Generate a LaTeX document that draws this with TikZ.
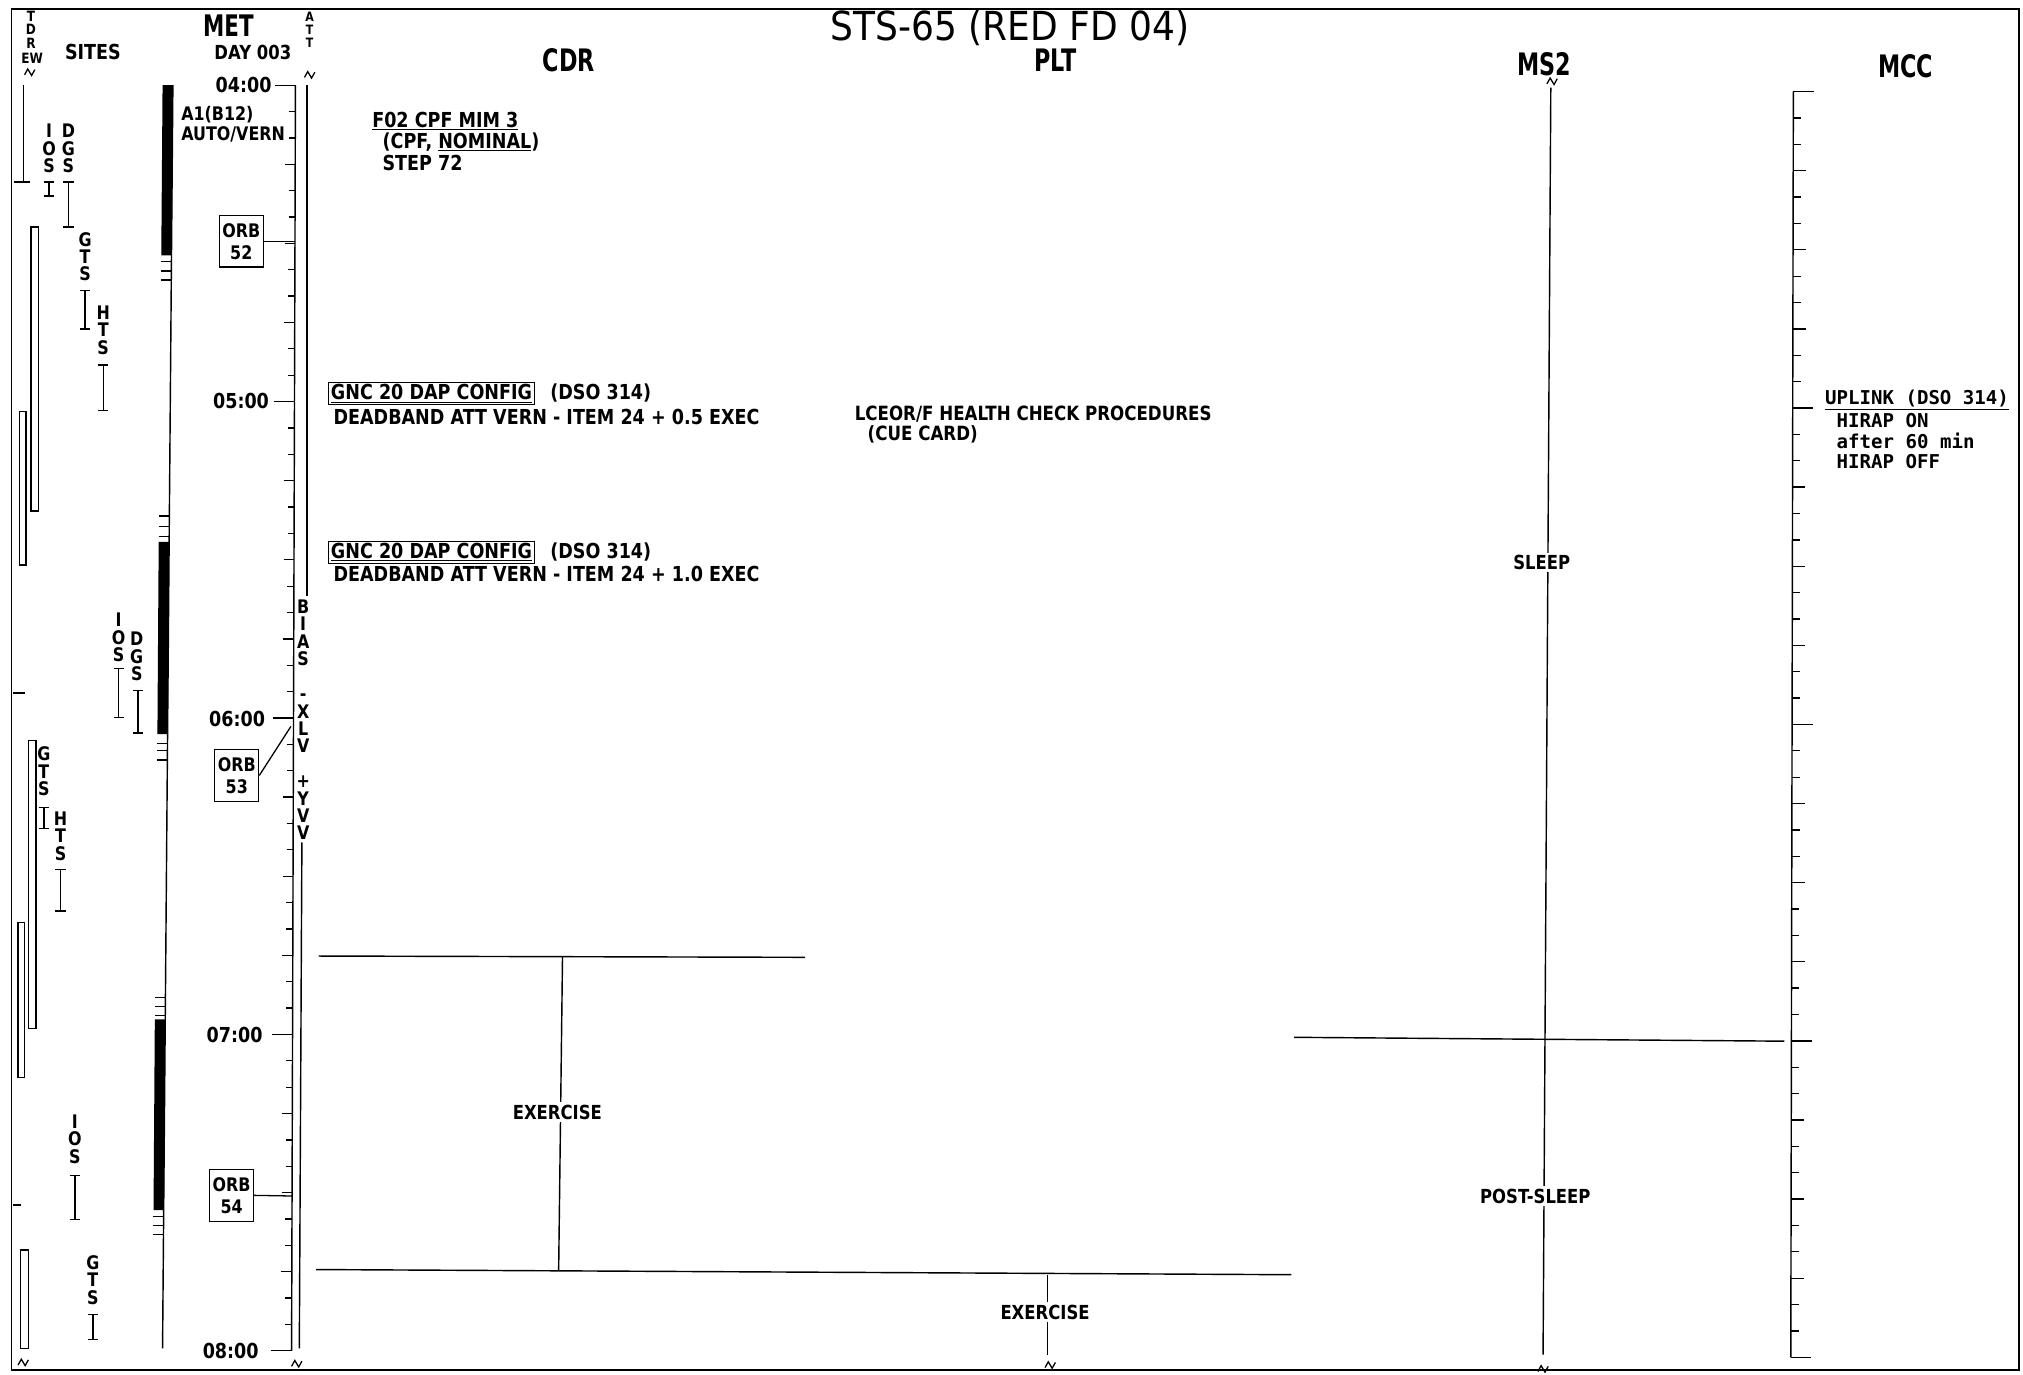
\documentclass[tikz,border=0pt]{standalone}
\usepackage{fontspec}
\setmainfont[FakeStretch=0.85]{DejaVu Sans}
\newfontfamily\ttlf[FakeStretch=0.9]{DejaVu Sans}
\newfontfamily\hdf[FakeStretch=0.72]{DejaVu Sans}
\newfontfamily\monof{DejaVu Sans Mono}
\newcommand\siteI[3]{\draw (#1,#2) -- (#1,#3) (#1-4,#2) -- (#1+4,#2) (#1-4,#3) -- (#1+4,#3);}
\begin{document}
\begin{tikzpicture}[x=1pt,y=-1pt,line width=1.1pt,
  txt/.style={inner sep=0pt,anchor=west,font=\bfseries\fontsize{16}{18}\selectfont},
  ctxt/.style={inner sep=2pt,fill=white,font=\bfseries\fontsize{15}{17}\selectfont},
  hdr/.style={inner sep=0pt,font=\hdf\bfseries\fontsize{24}{26}\selectfont},
  vst/.style={inner sep=0pt,align=center,font=\bfseries\fontsize{14.5}{13.5}\selectfont},
  mono/.style={inner sep=0pt,anchor=west,font=\monof\bfseries\fontsize{14.8}{16}\selectfont},
  tlab/.style={inner sep=0pt,anchor=east,font=\bfseries\fontsize{16}{18}\selectfont},
  orb/.style={draw,line width=1pt,align=center,minimum width=34pt,minimum height=40pt,inner sep=1pt,font=\bfseries\fontsize{14.5}{17}\selectfont},
  gnc/.style={draw,line width=1pt,anchor=west,inner xsep=2pt,inner ysep=1.5pt,font=\bfseries\fontsize{16}{18}\selectfont},
  brk/.pic={\draw[line width=1pt] (-4,2) -- (-1.5,-2.5) -- (1.5,2.5) -- (4,-2);}
]
\useasboundingbox (0,0) rectangle (1568,1065);
\fill[white] (0,0) rectangle (1568,1065);
% frame
\draw (9,7) rectangle (1565,1062);

% ---------- headers ----------
\node[inner sep=0pt,font=\ttlf\fontsize{31}{33}\selectfont] (title) at (783,22) {STS-65 (RED FD 04)};
\node[hdr] (cdr) at (441,47) {CDR};
\node[hdr] (plt) at (818,47) {PLT};
\node[hdr] (ms2) at (1197,50) {MS2};
\node[hdr] (mcc) at (1477,51) {MCC};
\node[inner sep=0pt,align=center,font=\bfseries\fontsize{11}{10.5}\selectfont] (tdr) at (24,23) {T\\D\\R};
\node[inner sep=0pt,font=\bfseries\fontsize{11}{11}\selectfont] (ew) at (25,45) {EW};
\node[inner sep=0pt,font=\bfseries\fontsize{16}{17}\selectfont] (sites) at (72,40) {SITES};
\node[inner sep=0pt,font=\hdf\bfseries\fontsize{23}{25}\selectfont] (met) at (177,20) {MET};
\node[inner sep=0pt,font=\bfseries\fontsize{15}{16}\selectfont] (day) at (196,41) {DAY 003};
\node[inner sep=0pt,align=center,font=\bfseries\fontsize{10}{10}\selectfont] (att) at (240,23) {A\\T\\T};

% break marks
\pic at (23,56) {brk};
\pic at (240,58) {brk};
\pic at (1203,63) {brk};
\pic at (18,1056) {brk};
\pic at (230,1057) {brk};
\pic at (814,1058) {brk};
\pic at (1196,1061) {brk};

% ---------- TDRE/W tracks ----------
\draw (18,66) -- (18,141);
\draw (11,141) -- (23,141);
\draw (24,176) rectangle (30,396);
\draw (15,319) rectangle (20,438);
\draw (10,537) -- (19,537);
\draw (22,574) rectangle (28,797);
\draw (14,715) rectangle (19,835);
\draw (10,934) -- (16,934);
\draw (16,969) rectangle (22,1045);

% ---------- sites ----------
\node[vst] (ios1) at (38,115) {I\\O\\S};
\node[vst] (dgs1) at (53,115) {D\\G\\S};
\node[vst] (gts1) at (66,199) {G\\T\\S};
\node[vst] (hts1) at (80,256) {H\\T\\S};
\node[vst] (ios2) at (92,494) {I\\O\\S};
\node[vst] (dgs2) at (106,509) {D\\G\\S};
\node[vst] (gts2) at (34,598) {G\\T\\S};
\node[vst] (hts2) at (47,648) {H\\T\\S};
\node[vst] (ios3) at (58,883) {I\\O\\S};
\node[vst] (gts3) at (72,992) {G\\T\\S};
\siteI{38}{141}{152}
\siteI{53}{141}{176}
\siteI{66}{225}{255}
\siteI{80}{283}{318}
\siteI{92}{518}{556}
\siteI{107}{535}{568}
\siteI{34}{626}{642}
\siteI{47}{674}{706}
\siteI{58}{911}{945}
\siteI{72}{1019}{1038}

% ---------- comm bar column ----------
\draw (134,66) -- (126,1045);
\fill (126,66) -- (134,66) -- (133,198) -- (125,198) -- cycle;
\fill (123,420) -- (131,420) -- (130,569) -- (122,569) -- cycle;
\fill (120,790) -- (128,790) -- (127,938) -- (119,938) -- cycle;
\foreach \yy/\xx in {203/132.8,210/132.8,217/132.7,400/131.3,408/131.2,416/131.1,576/129.8,582/129.8,589/129.7,773/128.2,780/128.2,787/128.1,943/126.8,950/126.8,957/126.7}{
  \draw[line width=0.9pt] (\xx-8,\yy) -- (\xx,\yy);
}
\node[inner sep=0pt,anchor=west,align=left,font=\bfseries\fontsize{14.5}{15.5}\selectfont] (a1) at (140,96) {A1(B12)\\AUTO/VERN};

% ---------- MET axis ----------
\draw (229,66) -- (226,1047);
\foreach \i in {0,...,48}{
  \pgfmathsetmacro\yy{66+\i*20.4375}
  \pgfmathsetmacro\ax{229-0.0031*(\yy-66)}
  \pgfmathtruncatemacro\mh{mod(\i,12)}
  \pgfmathtruncatemacro\mq{mod(\i,3)}
  \ifnum\mh=0 \def\tlen{16}\else\ifnum\mq=0 \def\tlen{8}\else\def\tlen{5}\fi\fi
  \draw[line width=1pt] (\ax-\tlen,\yy) -- (\ax,\yy);
}
\node[tlab] (t4) at (211,66) {04:00};
\node[tlab] (t5) at (209,311) {05:00};
\node[tlab] (t6) at (206,557) {06:00};
\node[tlab] (t7) at (204,802) {07:00};
\node[tlab] (t8) at (201,1047) {08:00};

\node[orb] (orb52) at (187,187) {ORB\\52};
\node[orb] (orb53) at (183.5,601) {ORB\\53};
\node[orb] (orb54) at (179.5,926.5) {ORB\\54};
\coordinate (a52) at (228.6,187);
\coordinate (a53) at (225.5,563);
\coordinate (a54) at (226.4,927);
\draw[line width=1pt] (orb52.east) -- (a52);
\draw[line width=1pt] (orb53.east) -- (a53);
\draw[line width=1pt] (orb54.east) -- (a54);

% ---------- ATT column ----------
\draw (238,66) -- (238,462);
\draw (234,653) -- (232,1045);
\node[vst] (bias) at (235,558) {B\\I\\A\\S\\\mbox{}\\-\\X\\L\\V\\\mbox{}\\+\\Y\\V\\V};

% ---------- CDR ----------
\node[txt] (f02) at (288,94) {\underline{F02 CPF MIM 3}};
\node[txt] (cpf) at (296,110) {(CPF, \underline{NOMINAL})};
\node[txt] (step) at (296,126) {STEP 72};
\node[gnc] (gnc1) at (254,305) {\underline{GNC 20 DAP CONFIG}};
\node[txt] (dso1) at (426,305) {(DSO 314)};
\node[txt] (db1) at (258,323) {DEADBAND ATT VERN - ITEM 24 + 0.5 EXEC};
\node[gnc] (gnc2) at (254,428) {\underline{GNC 20 DAP CONFIG}};
\node[txt] (dso2) at (426,428) {(DSO 314)};
\node[txt] (db2) at (258,445) {DEADBAND ATT VERN - ITEM 24 + 1.0 EXEC};

% exercise blocks
\coordinate (e1l) at (247,741);
\coordinate (e1r) at (624,742);
\coordinate (e1t) at (436,741);
\coordinate (e2l) at (245,984);
\coordinate (e2r) at (1001,988);
\coordinate (e1b) at (433,985);
\coordinate (x2t) at (812,988);
\coordinate (x2b) at (812,1050);
\draw (e1l) -- (e1r);
\draw (e2l) -- (e2r);
\draw (e1t) -- (e1b);
\draw (x2t) -- (x2b);
\node[ctxt] (ex1) at (432,862) {EXERCISE};
\node[ctxt] (ex2) at (810,1017) {EXERCISE};

% ---------- PLT ----------
\node[txt,font=\bfseries\fontsize{15.2}{17}\selectfont] (lce) at (662,321) {LCEOR/F HEALTH CHECK PROCEDURES};
\node[txt,font=\bfseries\fontsize{15.2}{17}\selectfont] (cue) at (672,337) {(CUE CARD)};

% ---------- MS2 ----------
\coordinate (m2t) at (1202,68);
\coordinate (m2b) at (1196,1050);
\coordinate (m7l) at (1003,804);
\coordinate (m7r) at (1383,807);
\draw (m2t) -- (m2b);
\draw (m7l) -- (m7r);
\node[ctxt] (sleep) at (1195,436) {SLEEP};
\node[ctxt] (post) at (1190,927) {POST-SLEEP};

% ---------- MCC ----------
\draw (1390,71) -- (1388,1052);
\foreach \i in {0,...,48}{
  \pgfmathsetmacro\yy{71+\i*20.4375}
  \pgfmathsetmacro\ax{1390-0.002*(\yy-71)}
  \pgfmathtruncatemacro\mh{mod(\i,12)}
  \pgfmathtruncatemacro\mq{mod(\i,3)}
  \ifnum\mh=0 \def\tlen{16}\else\ifnum\mq=0 \def\tlen{10}\else\def\tlen{6}\fi\fi
  \draw[line width=1pt] (\ax,\yy) -- (\ax+\tlen,\yy);
}
\node[mono] (upl) at (1414,310) {\underline{UPLINK (DSO 314)}};
\node[mono] (hon) at (1423,326) {HIRAP ON};
\node[mono] (aft) at (1423,342) {after 60 min};
\node[mono] (hoff) at (1423,358) {HIRAP OFF};
\end{tikzpicture}
\end{document}
